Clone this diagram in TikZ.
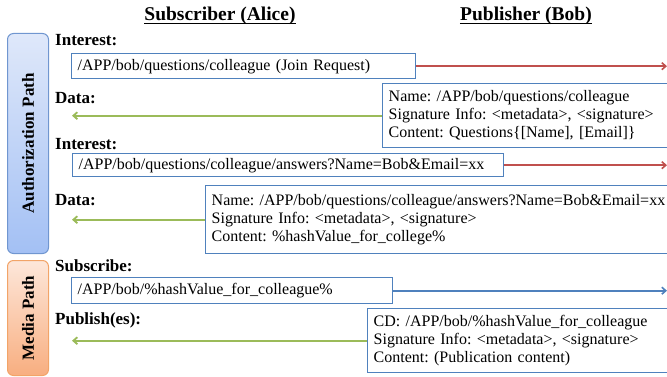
\documentclass[tikz,border=0pt]{standalone}
\usepackage{fontspec}
\setmainfont{Liberation Serif}
\usetikzlibrary{arrows.meta,shadings}
\definecolor{boxblue}{HTML}{4F81BD}
\definecolor{arrred}{HTML}{C0504D}
\definecolor{arrgreen}{HTML}{9BBB59}
\definecolor{authtop}{HTML}{DFE8FA}
\definecolor{authbot}{HTML}{A3C0F4}
\definecolor{authline}{HTML}{7096D0}
\definecolor{medtop}{HTML}{FDE7DA}
\definecolor{medbot}{HTML}{F8AE80}
\definecolor{medline}{HTML}{F2A468}
\frenchspacing
\tikzset{
  title/.style={font=\fontsize{19.5}{22}\selectfont\bfseries, inner sep=0pt},
  uline/.style={line width=1.2pt, black},
  lbl/.style={font=\fontsize{17}{18}\selectfont\bfseries, anchor=west, inner sep=0pt},
  namebox/.style={draw=boxblue, line width=1.4pt, fill=white, anchor=north west, inner xsep=6pt, inner ysep=0pt,
     font=\fontsize{16}{18}\selectfont, align=left},
  pathbox/.style={rounded corners=6pt, line width=1pt, anchor=north west, inner sep=0pt},
  pathlbl/.style={rotate=90, font=\fontsize{17}{18}\selectfont\bfseries, inner sep=0pt},
  reqarrow/.style={line width=1.6pt, -{Straight Barb[length=4pt,width=7pt]}},
  dataarrow/.style={line width=1.8pt, arrgreen, -{Straight Barb[length=4pt,width=7pt]}},
}
\begin{document}
\begin{tikzpicture}[x=1pt,y=-1pt]
\useasboundingbox (0,0) rectangle (667,377);
% titles
\node[title] (tsub) at (220,16) {Subscriber (Alice)};
\node[title] (tpub) at (526,16) {Publisher (Bob)};
\draw[uline] ([yshift=-2.5pt]tsub.base west) -- ([yshift=-2.5pt]tsub.base east);
\draw[uline] ([yshift=-2.5pt]tpub.base west) -- ([yshift=-2.5pt]tpub.base east);
% path boxes
\node[pathbox, draw=authline, top color=authtop, bottom color=authbot, minimum width=41pt, minimum height=220pt] (auth) at (7,33) {};
\node[pathlbl] (authlbl) at (auth.center) {Authorization Path};
\node[pathbox, draw=medline, top color=medtop, bottom color=medbot, minimum width=41pt, minimum height=115pt] (media) at (7,260) {};
\node[pathlbl] (medialbl) at (media.center) {Media Path};
% labels
\node[lbl] (l1) at (55,40) {Interest:};
\node[lbl] (l2) at (55,98) {Data:};
\node[lbl] (l3) at (55,144) {Interest:};
\node[lbl] (l4) at (55,200) {Data:};
\node[lbl] (l5) at (55,266) {Subscribe:};
\node[lbl] (l6) at (55,320) {Publish(es):};
% boxes
\node[namebox, minimum width=344pt, minimum height=25pt, text width=332pt] (b1) at (71,53) {/APP/bob/questions/colleague (Join Request)};
\node[namebox, minimum width=290pt, minimum height=64pt, text width=278pt] (b2) at (382,83)
  {Name: /APP/bob/questions/colleague\\Signature Info: <metadata>, <signature>\\Content: Questions\{[Name], [Email]\}};
\node[namebox, minimum width=431pt, minimum height=23pt, text width=419pt] (b3) at (72,153) {/APP/bob/questions/colleague/answers?Name=Bob\&Email=xx};
\node[namebox, minimum width=467pt, minimum height=68pt, text width=455pt] (b4) at (205,185)
  {Name: /APP/bob/questions/colleague/answers?Name=Bob\&Email=xx\\Signature Info: <metadata>, <signature>\\Content: \%hashValue\_for\_college\%};
\node[namebox, minimum width=321pt, minimum height=26pt, text width=309pt] (b5) at (71,277) {/APP/bob/\%hashValue\_for\_colleague\%};
\node[namebox, minimum width=305pt, minimum height=64pt, text width=293pt] (b6) at (367,308)
  {CD: /APP/bob/\%hashValue\_for\_colleague\\Signature Info: <metadata>, <signature>\\Content: (Publication content)};
% arrow ends
\coordinate (rx) at (667,0);
\coordinate (lx) at (72,0);
\coordinate (e1) at (b1.east -| rx);
\coordinate (e3) at (b3.east -| rx);
\coordinate (e5) at (b5.east -| rx);
\coordinate (g2) at (b2.west -| lx);
\coordinate (g4) at (b4.west -| lx);
\coordinate (g6) at (b6.west -| lx);
\draw[reqarrow, arrred] (b1.east) -- (e1);
\draw[reqarrow, arrred] (b3.east) -- (e3);
\draw[reqarrow, boxblue] (b5.east) -- (e5);
\draw[dataarrow] (b2.west) -- (g2);
\draw[dataarrow] (b4.west) -- (g4);
\draw[dataarrow] (b6.west) -- (g6);
\end{tikzpicture}
\end{document}
